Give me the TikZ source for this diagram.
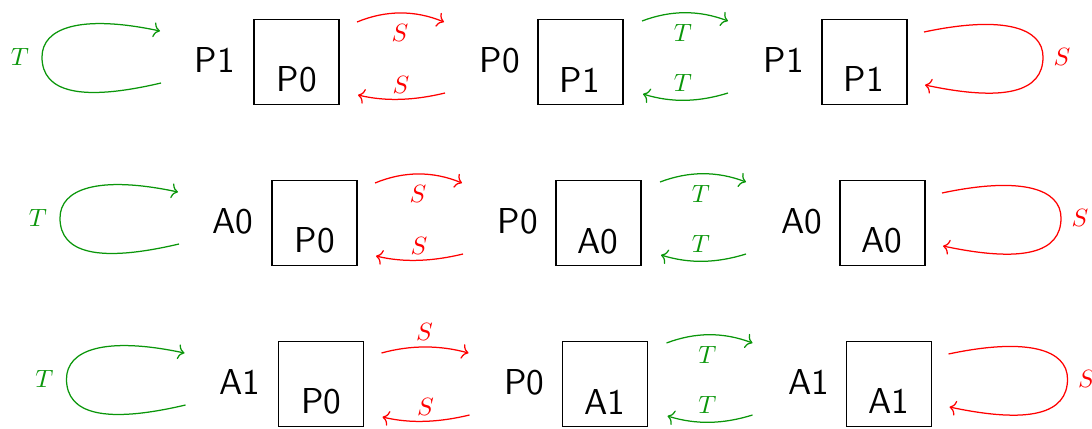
\documentclass[tikz,border=0pt]{standalone}
\usetikzlibrary{arrows.meta}
\definecolor{tgreen}{RGB}{10,150,10}
\tikzset{
  lbl/.style={font=\sffamily\Large, inner sep=0pt},
  statebox/.style={draw, line width=0.5pt, minimum width=34pt, minimum height=34pt, inner sep=0pt},
  sarr/.style={red, line width=0.5pt, -{To[length=2.6pt, width=6pt]}},
  tarr/.style={tgreen, line width=0.5pt, -{To[length=2.6pt, width=6pt]}},
  slbl/.style={red, inner sep=0pt},
  tlbl/.style={tgreen, inner sep=0pt},
}
% #1 prefix, #2 dx, #3 dy, #4 state, #5 y of top S arrow, #6 its rise, #7 y of its label
\newcommand\myrow[7]{%
\begin{scope}[shift={(#2,#3)}, name prefix=#1-]
  % left T loop
  \node[tlbl] (tl) at (20,57) {$T$};
  \coordinate (l1s) at (161,83);
  \coordinate (l1m) at (42,57);
  \coordinate (l1e) at (160,31);
  \draw[tarr] (l1s) .. controls +(-81,19) and +(0,35) .. (l1m)
                    .. controls +(0,-29) and +(-80,-17) .. (l1e);
  % first state
  \node[lbl] (o1) at (215,60) {#4};
  \node[statebox] (b1) at (296.5,62) {};
  \node[lbl] (n1) at (297,79) {P0};
  % S arrows
  \coordinate (s1a) at (357,#5);
  \coordinate (s1b) at (444,#5);
  \draw[sarr] (s1a) .. controls +(29,-#6) and +(-29,-#6) .. (s1b);
  \node[slbl] (sl1) at (400,#7) {$S$};
  \coordinate (s2a) at (445,93);
  \coordinate (s2b) at (358,95);
  \draw[sarr] (s2a) .. controls +(-29,7) and +(29,7) .. (s2b);
  \node[slbl] (sl2) at (401,85) {$S$};
  % second state
  \node[lbl] (o2) at (500,60) {P0};
  \node[statebox] (b2) at (580.5,62) {};
  \node[lbl] (n2) at (580,80) {#4};
  % T arrows
  \coordinate (t1a) at (642,21);
  \coordinate (t1b) at (728,21);
  \draw[tarr] (t1a) .. controls +(29,-11) and +(-29,-11) .. (t1b);
  \node[tlbl] (tl1) at (683,33) {$T$};
  \coordinate (t2a) at (728,93);
  \coordinate (t2b) at (643,94);
  \draw[tarr] (t2a) .. controls +(-29,9) and +(29,9) .. (t2b);
  \node[tlbl] (tl2) at (683,83) {$T$};
  % third state
  \node[lbl] (o3) at (784,60) {#4};
  \node[statebox] (b3) at (864.5,62) {};
  \node[lbl] (n3) at (864,79) {#4};
  % right S loop
  \coordinate (r1s) at (924,32);
  \coordinate (r1m) at (1043,57);
  \coordinate (r1e) at (925,85);
  \draw[sarr] (r1s) .. controls +(80,-17) and +(0,-29) .. (r1m)
                    .. controls +(0,35) and +(80,17) .. (r1e);
  \node[slbl] (sr) at (1062,57) {$S$};
\end{scope}}
\begin{document}
\begin{tikzpicture}[x=0.4pt, y=-0.4pt]
  \useasboundingbox (0,0) rectangle (1092,428);
  \clip (0,0) rectangle (1092,428);
  \myrow{r1}{0}{0}{P1}{22}{12}{33}
  \myrow{r2}{18}{161}{A0}{22}{12}{33}
  \myrow{r3}{24.5}{322}{A1}{31}{8}{10}
\end{tikzpicture}
\end{document}
